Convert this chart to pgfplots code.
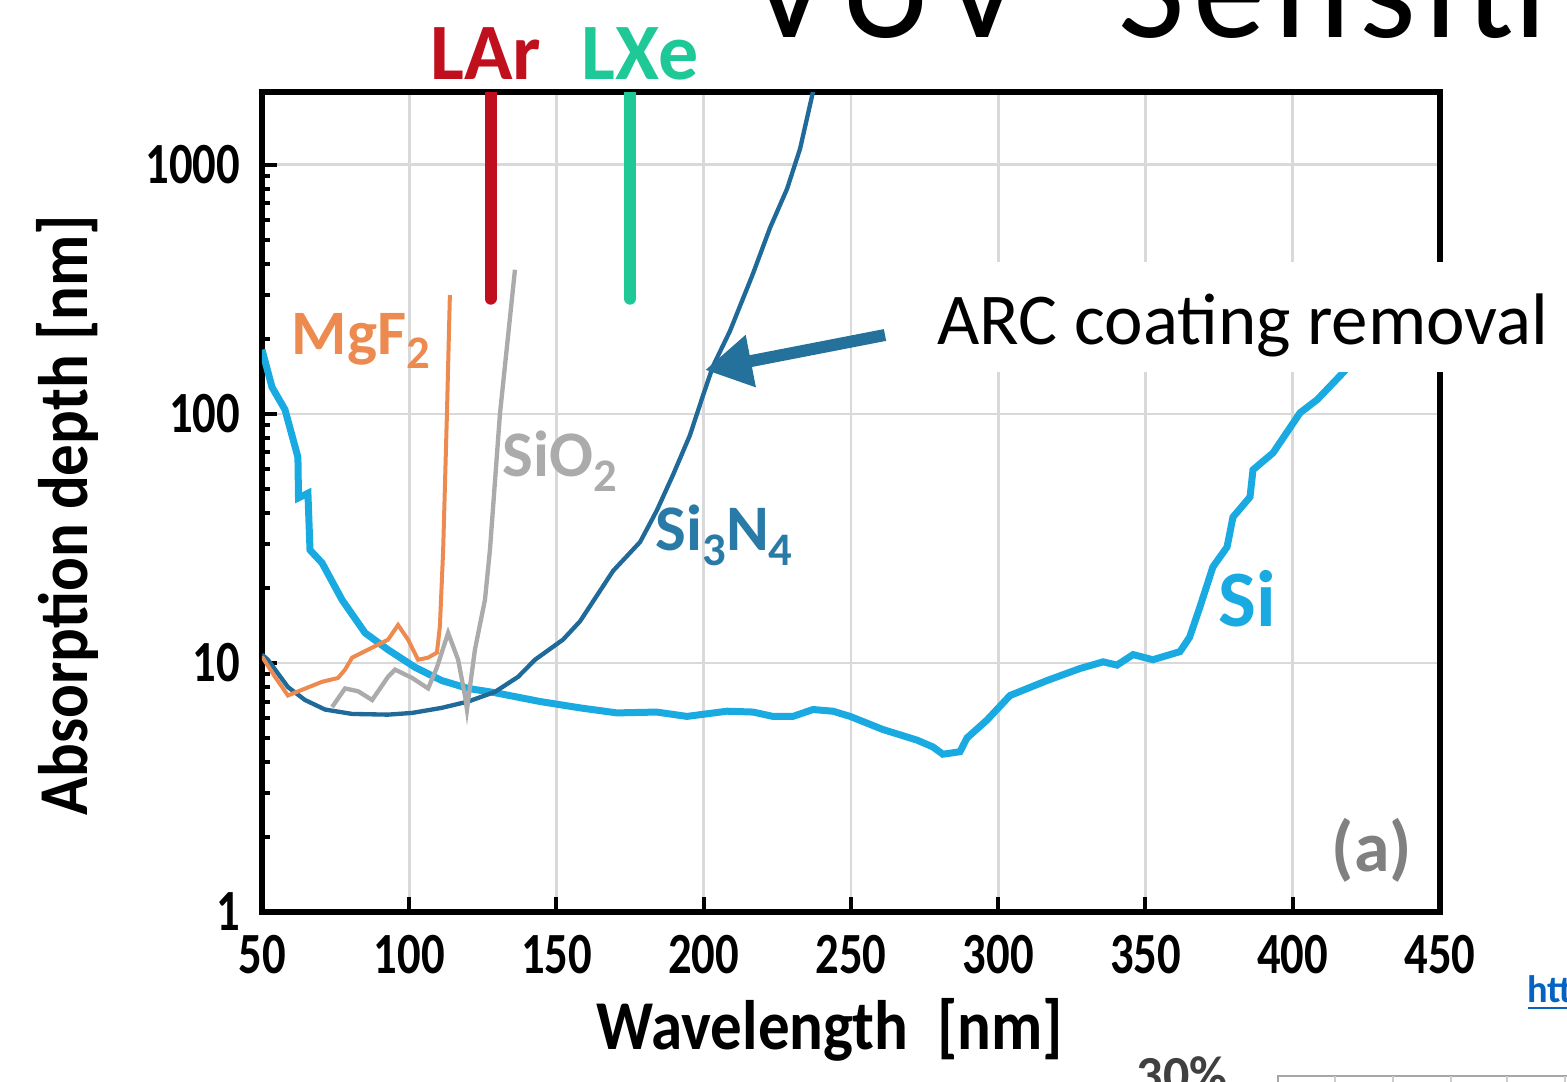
\documentclass[border=0pt]{standalone}
\usepackage{fontspec}
\setmainfont{Carlito}
\newfontfamily\tickfont{Carlito}[FakeStretch=0.8]
\newfontfamily\labfont{Carlito}[FakeStretch=0.9]
\newfontfamily\titlefont{Carlito}[LetterSpace=6]
\usepackage{pgfplots}
\pgfplotsset{compat=1.18}
\usetikzlibrary{arrows.meta}

\definecolor{siblue}{HTML}{1AAAE2}
\definecolor{sinblue}{HTML}{1F6A98}
\definecolor{sinlab}{HTML}{2A7AA8}
\definecolor{mgorange}{HTML}{EC8A4F}
\definecolor{sigray}{HTML}{ABABAB}
\definecolor{larred}{HTML}{C0101E}
\definecolor{lxegreen}{HTML}{1FC997}
\definecolor{arrowblue}{HTML}{24719B}
\definecolor{gridgray}{HTML}{D9D9D9}
\definecolor{linkblue}{HTML}{0563C1}

\newcommand\fs[1]{\fontsize{#1}{#1}\selectfont}
\newcommand\sub[2]{\raisebox{-0.22em}{\fs{#1}#2}}

\begin{document}
\begin{tikzpicture}[x=0.3pt,y=0.3pt]
\useasboundingbox (0,0) rectangle (1567,1082);
\clip (0,0) rectangle (1567,1082);

% slide title, cut off by the frame
\node[anchor=base west, inner sep=0] at (748,1044) {\titlefont\fs{43.5}VUV};
\node[anchor=base west, inner sep=0] at (1118,1044) {\titlefont\fs{43.5}Sensitivity};

\begin{axis}[
  at={(78.6pt,51pt)}, anchor=south west,
  width=353.4pt, height=246pt, scale only axis,
  xmin=50, xmax=450,
  ymode=log, ymin=1, ymax=1960,
  axis line style={line width=1.6pt},
  grid=major, major grid style={gridgray, line width=0.8pt},
  xtick={50,100,150,200,250,300,350,400,450},
  xticklabels={50,100,150,200,250,300,350,400,450},
  ytick={1,10,100,1000}, yticklabels={1,10,100,1000},
  minor ytick={2,3,4,5,6,7,8,9,20,30,40,50,60,70,80,90,200,300,400,500,600,700,800,900},
  tick align=inside, tick pos=left,
  major tick length=4.5pt, minor tick length=2.5pt,
  tick style={black, line width=1.2pt},
  ticklabel style={font=\tickfont\bfseries\fs{17.5}},
  xticklabel style={yshift=-3.5pt},
  yticklabel style={xshift=-3pt},
  xlabel={Wavelength~~[nm]}, ylabel={Absorption depth [nm]},
  label style={font=\labfont\bfseries\fs{21}},
  xlabel style={at={(axis description cs:0.482,-0.144)}, anchor=center},
  ylabel style={at={(axis description cs:-0.165,0.484)}, anchor=center},
]
% Si
\addplot[siblue, line width=2.1pt] coordinates {
(50,181) (53.4,128) (57.8,104) (62.2,67) (62.4,46) (65.6,48) (66.3,28.4)
(70.4,25.2) (77.2,17.9) (85,13.2) (92.8,11.3) (102,9.6) (111,8.5) (120,7.9)
(129,7.6) (144.4,7.0) (158,6.6) (170.5,6.3) (184,6.35) (194.3,6.1) (207.9,6.4)
(216.7,6.35) (223.5,6.1) (230.3,6.1) (237.1,6.5) (243.9,6.4) (249.7,6.1)
(260.9,5.4) (272.4,4.9) (277.8,4.6) (281.2,4.3) (287,4.4) (289.4,5.0)
(296.2,5.9) (304,7.4) (316.6,8.5) (327.8,9.5) (335.6,10.1) (340.3,9.8)
(345.8,10.8) (352.5,10.3) (361.7,11.1) (365,12.7) (368.5,16.8) (372.9,24.3)
(377.7,29.2) (379.7,38.5) (385.5,46.4) (386.5,59.6) (393.3,69.7)
(402.5,101) (408.3,114) (417,146) (422,170)
};
% Si3N4
\addplot[sinblue, line width=1.3pt] coordinates {
(50,10.8) (52,10.3) (58.8,8.0) (64.6,7.1) (71.4,6.5) (80.6,6.24) (92.8,6.2)
(101,6.3) (111,6.6) (120,7.0) (129.1,7.65) (137,8.8) (142.7,10.3) (152.2,12.4)
(158,14.7) (169.2,23.4) (178.4,30.6) (184.1,41) (189.6,57) (195.3,82)
(199.7,118) (203.1,155) (208.9,215) (216.7,365) (222.5,558) (228.3,801)
(232.7,1159) (237.1,1963)
};
% SiO2
\addplot[sigray, line width=1.3pt] coordinates {
(73.8,6.65) (78.2,7.9) (82.6,7.7) (87.4,7.1) (92.8,8.8) (95.2,9.4) (101,8.7)
(106.4,7.9) (109.4,9.6) (113.2,13.2) (116.6,10.3) (119,7.3) (119.6,6.5)
(122.3,11.3) (125.7,17.9) (127.4,28.4) (130.8,100) (135.9,379)
};
% MgF2
\addplot[mgorange, line width=1.2pt] coordinates {
(50,10.6) (54.4,8.8) (58.8,7.4) (63.6,7.8) (70.4,8.4) (75.8,8.7) (78.2,9.4)
(80.6,10.5) (86,11.3) (92.8,12.4) (96.2,14.2) (99.6,12.4) (103,10.3)
(106.4,10.5) (109.4,11) (110.4,14) (111.5,28) (112.8,100) (113.8,300)
};
% scintillation lines
\addplot[larred, line width=3.6pt, line cap=round] coordinates {(127.6,290) (127.6,3000)};
\addplot[lxegreen, line width=3.6pt, line cap=round] coordinates {(175,290) (175,3000)};
\end{axis}

% curve labels
\node[anchor=base, inner sep=0, text=larred] at (486,1002) {\fs{24}\bfseries LAr};
\node[anchor=base, inner sep=0, text=lxegreen] at (640,1002) {\fs{24}\bfseries LXe};
\node[anchor=base west, inner sep=0, text=mgorange] at (291,727) {\fs{19}\bfseries MgF\sub{14}{2}};
\node[anchor=base west, inner sep=0, text=sigray] at (502,605) {\fs{19.5}\bfseries SiO\sub{14}{2}};
\node[anchor=base west, inner sep=0, text=sinlab] at (655,531) {\fs{19.5}\bfseries Si\sub{14}{3}N\sub{14}{4}};
\node[anchor=base west, inner sep=0, text=siblue] at (1218,455) {\fs{24}\bfseries Si};
\node[inner sep=0, text=black!50] at (1372,232) {\fs{21.5}\bfseries (a)};

% annotation box and arrow
\fill[white] (905,710) rectangle (1567,820);
\node[anchor=base west, inner sep=0] at (937,737) {\fs{21.9}ARC coating removal};
\draw[arrowblue, line width=3.6pt, -{Triangle[length=14pt,width=15pt]}] (885,747) -- (705,712);

% slide fragments at the bottom right
\node[anchor=base west, inner sep=0, text=linkblue] at (1527,79) {\fs{11.5}\bfseries\underline{htt}};
\node[anchor=base west, inner sep=0, text=black!75] at (1136,-11) {\fs{15.6}\bfseries 30\%};
\draw[black!35, line width=0.6pt] (1278,0) -- (1278,6) -- (1567,6);
\foreach \xx in {1335,1393,1451,1507,1565} \draw[black!20, line width=0.5pt] (\xx,0) -- (\xx,6);
\end{tikzpicture}
\end{document}
